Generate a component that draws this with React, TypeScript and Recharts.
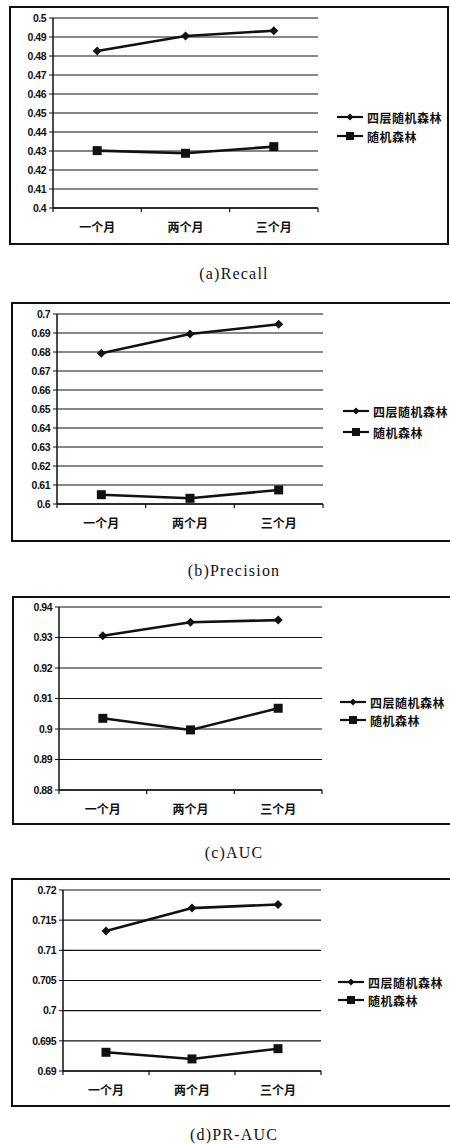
import React from 'react';
import { LineChart, Line, XAxis, YAxis, CartesianGrid } from 'recharts';

// categories and series
const months = ['一个月', '两个月', '三个月'];
const seriesNames = ['四层随机森林', '随机森林'];

const recallFour = [0.4826, 0.4905, 0.4933];
const recallRF = [0.4302, 0.4288, 0.4323];
const recallTicks = [0.4, 0.41, 0.42, 0.43, 0.44, 0.45, 0.46, 0.47, 0.48, 0.49, 0.5];

const precisionFour = [0.6793, 0.6895, 0.6946];
const precisionRF = [0.6049, 0.603, 0.6074];
const precisionTicks = [0.6, 0.61, 0.62, 0.63, 0.64, 0.65, 0.66, 0.67, 0.68, 0.69, 0.7];

const aucFour = [0.9306, 0.935, 0.9357];
const aucRF = [0.9035, 0.8997, 0.9068];
const aucTicks = [0.88, 0.89, 0.9, 0.91, 0.92, 0.93, 0.94];

const prAucFour = [0.7132, 0.717, 0.7176];
const prAucRF = [0.6931, 0.692, 0.6937];
const prAucTicks = [0.69, 0.695, 0.7, 0.705, 0.71, 0.715, 0.72];

const captions = ['(a)Recall', '(b)Precision', '(c)AUC', '(d)PR-AUC'];

// layout of each panel (page px)
const PANELS = [
  { four: recallFour, rf: recallRF, ticks: recallTicks, caption: captions[0],
    box: [9, 6, 449, 245], plot: [53, 18, 318, 208], legend: [337, 117, 136], capY: 274 },
  { four: precisionFour, rf: precisionRF, ticks: precisionTicks, caption: captions[1],
    box: [11, 302, 452, 542], plot: [57, 314, 323, 504], legend: [343, 411, 432], capY: 571 },
  { four: aucFour, rf: aucRF, ticks: aucTicks, caption: captions[2],
    box: [12, 596, 452, 825], plot: [59, 607, 322, 790], legend: [340, 702, 720], capY: 853 },
  { four: prAucFour, rf: prAucRF, ticks: prAucTicks, caption: captions[3],
    box: [11, 878, 452, 1107], plot: [63, 890, 321, 1071], legend: [338, 982, 1000], capY: 1135 },
];

const INK = '#111';
const CJK = '"Noto Sans CJK SC", sans-serif';

const Diamond = ({ cx, cy, r = 4 }: any) => (
  <polygon points={`${cx},${cy - r} ${cx + r},${cy} ${cx},${cy + r} ${cx - r},${cy}`} fill={INK} />
);
const Square = ({ cx, cy, r = 4.5 }: any) => (
  <rect x={cx - r} y={cy - r} width={r * 2} height={r * 2} fill={INK} />
);

const fmt = (v: number) => String(Number(v.toFixed(4)));

const Panel = ({ p }: { p: (typeof PANELS)[number] }) => {
  const [bl, bt, br, bb] = p.box;
  const [pl, pt, pr, pb] = p.plot;
  const w = br - bl;
  const h = bb - bt;
  const xAxisH = 30;
  const band = (pr - pl) / months.length;
  const data = months.map((m, i) => ({ month: m, four: p.four[i], rf: p.rf[i] }));

  const renderXTick = (props: any) => {
    const { x, y, payload, index } = props;
    return (
      <g>
        <line x1={x - band / 2} y1={y} x2={x - band / 2} y2={y + 4} stroke={INK} strokeWidth={1.2} />
        {index === months.length - 1 && (
          <line x1={x + band / 2} y1={y} x2={x + band / 2} y2={y + 4} stroke={INK} strokeWidth={1.2} />
        )}
        <text x={x} y={y + 20} dy="0.36em" textAnchor="middle" fontSize={12} fontWeight={700}
          fontFamily={CJK} fill={INK}>{payload.value}</text>
      </g>
    );
  };

  return (
    <>
      <div style={{ position: 'absolute', left: bl, top: bt, width: w, height: h }}>
        <div style={{ position: 'absolute', inset: 0, border: `2px solid ${INK}`, boxSizing: 'border-box' }} />
        <div style={{ position: 'absolute', left: 0, top: 0 }}>
          <LineChart width={w} height={h} data={data}
            margin={{ top: pt - bt, right: br - pr, left: 0, bottom: bb - pb - xAxisH }}>
            <CartesianGrid vertical={false} stroke={INK} strokeWidth={1.1} />
            <XAxis dataKey="month" height={xAxisH} axisLine={{ stroke: INK, strokeWidth: 1.5 }}
              padding={{ left: band / 2, right: band / 2 }}
              tickLine={false} tickSize={0} tickMargin={0} interval={0} tick={renderXTick} />
            <YAxis width={pl - bl} domain={[p.ticks[0], p.ticks[p.ticks.length - 1]]} ticks={p.ticks}
              interval={0} tickFormatter={fmt} axisLine={{ stroke: INK, strokeWidth: 1.5 }}
              tickLine={{ stroke: INK }} tickSize={4} tickMargin={3}
              tick={{ fontSize: 10.5, fontWeight: 700, fill: INK, fontFamily: '"Liberation Sans", Arial, sans-serif', letterSpacing: -0.5 }} />
            <Line dataKey="four" name={seriesNames[0]} stroke={INK} strokeWidth={2.6} isAnimationActive={false}
              dot={(d: any) => <Diamond key={`a${d.index}`} cx={d.cx} cy={d.cy} r={4.5} />} activeDot={false} />
            <Line dataKey="rf" name={seriesNames[1]} stroke={INK} strokeWidth={2.6} isAnimationActive={false}
              dot={(d: any) => <Square key={`b${d.index}`} cx={d.cx} cy={d.cy} r={4.5} />} activeDot={false} />
          </LineChart>
        </div>
      </div>
      {seriesNames.map((name, i) => (
        <div key={name} style={{ position: 'absolute', left: p.legend[0], top: p.legend[i + 1] - 8,
          height: 16, display: 'flex', alignItems: 'center', whiteSpace: 'nowrap',
          fontFamily: CJK, fontSize: 12, fontWeight: 700, color: INK, letterSpacing: 0.5 }}>
          <svg width={27} height={12} style={{ marginRight: 3 }}>
            <line x1={0} y1={6} x2={26} y2={6} stroke={INK} strokeWidth={2.2} />
            {i === 0 ? <Diamond cx={13} cy={6} r={3.5} /> : <Square cx={13} cy={6} r={4} />}
          </svg>
          <span>{name}</span>
        </div>
      ))}
      <div style={{ position: 'absolute', left: 84, width: 300, top: p.capY - 10, height: 20, lineHeight: '20px',
        textAlign: 'center', fontSize: 16, letterSpacing: 1.2, color: INK,
        fontFamily: '"Liberation Serif", serif' }}>
        {p.caption}
      </div>
    </>
  );
};

export default function App() {
  return (
    <div style={{ position: 'absolute', left: 0, top: 0, width: 450, height: 1144, overflow: 'hidden', background: '#fff' }}>
      {PANELS.map((p, i) => <Panel key={i} p={p} />)}
    </div>
  );
}
